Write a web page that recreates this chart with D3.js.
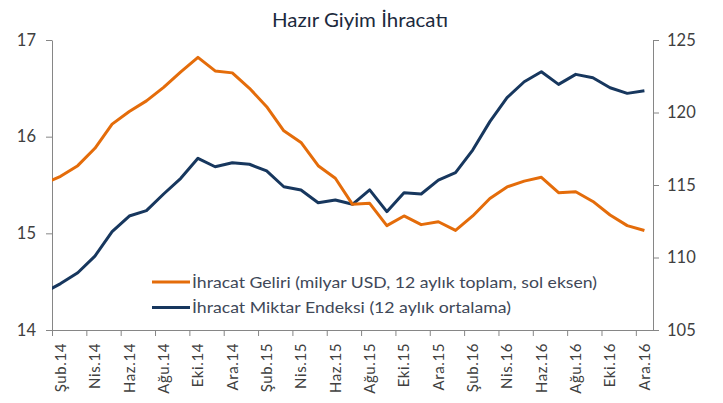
<!DOCTYPE html>
<html><head><meta charset="utf-8">
<script src="https://cdn.jsdelivr.net/npm/d3@7"></script>
<style>body{margin:0;background:#fff}svg{display:block}</style>
</head><body>
<svg id="c" width="723" height="403"></svg>
<script>
const title = "Hazır Giyim İhracatı";
// monthly categories (Oca.14 lies left of the visible plot area and is clipped)
const months = ["Oca.14","Şub.14","Mar.14","Nis.14","May.14","Haz.14","Tem.14","Ağu.14","Eyl.14","Eki.14","Kas.14","Ara.14",
  "Oca.15","Şub.15","Mar.15","Nis.15","May.15","Haz.15","Tem.15","Ağu.15","Eyl.15","Eki.15","Kas.15","Ara.15",
  "Oca.16","Şub.16","Mar.16","Nis.16","May.16","Haz.16","Tem.16","Ağu.16","Eyl.16","Eki.16","Kas.16","Ara.16"];
const revenue = [15.51,15.59,15.70,15.88,16.13,16.26,16.37,16.51,16.67,16.82,16.68,16.66,
  16.50,16.31,16.06,15.94,15.70,15.57,15.30,15.31,15.08,15.18,15.09,15.12,
  15.03,15.18,15.36,15.48,15.54,15.58,15.42,15.43,15.33,15.19,15.08,15.03];
const volume = [107.55,108.2,108.95,110.1,111.78,112.86,113.23,114.38,115.46,116.84,116.26,116.54,
  116.43,115.97,114.88,114.66,113.78,113.97,113.67,114.66,113.16,114.47,114.38,115.34,
  115.85,117.41,119.37,121.02,122.12,122.81,121.94,122.63,122.4,121.71,121.32,121.5];
const leftTicks = [14,15,16,17];
const rightTicks = [105,110,115,120,125];
const seriesNames = ["İhracat Geliri (milyar USD, 12 aylık toplam, sol eksen)","İhracat Miktar Endeksi (12 aylık ortalama)"];
const colors = ["#E46C0A","#17375E"];

const svg = d3.select("#c");
const L = 52, R = 653, T = 40, B = 330;
const font = "Lato, 'Open Sans', sans-serif";
const x = d3.scaleLinear().domain([0.5, months.length - 0.5]).range([L, R]);
const yL = d3.scaleLinear().domain([14, 17]).range([B, T]);
const yR = d3.scaleLinear().domain([105, 125]).range([B, T]);

svg.append("defs").append("clipPath").attr("id","clip")
  .append("rect").attr("x",L).attr("y",0).attr("width",R-L).attr("height",403);

// title
svg.append("text").attr("x",360).attr("y",27).attr("text-anchor","middle")
  .attr("font-family",font).attr("font-size",19).attr("fill","#1c2a3d")
  .attr("textLength",176).attr("lengthAdjust","spacingAndGlyphs").text(title);

function styleAxis(g){
  g.selectAll(".domain").attr("stroke","#868686");
  g.selectAll(".tick line").attr("stroke","#868686");
  g.selectAll("text").attr("font-family",font).attr("fill","#404040");
}
// left axis
const gl = svg.append("g").attr("transform",`translate(${L},0)`)
  .call(d3.axisLeft(yL).tickValues(leftTicks).tickSize(6).tickSizeOuter(0).tickPadding(10).tickFormat(d3.format("d")));
styleAxis(gl); gl.selectAll("text").attr("font-size",16.5);
// right axis
const gr = svg.append("g").attr("transform",`translate(${R},0)`)
  .call(d3.axisRight(yR).tickValues(rightTicks).tickSize(6).tickSizeOuter(0).tickPadding(8).tickFormat(d3.format("d")));
styleAxis(gr); gr.selectAll("text").attr("font-size",16.5);
// bottom axis: tick marks at category boundaries every two months
const bounds = d3.range(0.5, months.length - 1, 2);
const gb = svg.append("g").attr("transform",`translate(0,${B})`)
  .call(d3.axisBottom(x).tickValues(bounds).tickSize(6).tickSizeOuter(0).tickFormat(""));
styleAxis(gb);
// category labels every two months starting at Şub.14
const labelIdx = d3.range(1, months.length, 2);
svg.append("g").selectAll("text").data(labelIdx).join("text")
  .attr("transform", i => `translate(${x(i)},${B+13}) rotate(-90)`)
  .attr("text-anchor","end").attr("dy","0.36em")
  .attr("font-family",font).attr("font-size",15).attr("letter-spacing",0.6).attr("fill","#404040")
  .text(i => months[i]);

// lines
const plot = svg.append("g").attr("clip-path","url(#clip)");
const lineL = d3.line().x((d,i)=>x(i)).y(d=>yL(d));
const lineR = d3.line().x((d,i)=>x(i)).y(d=>yR(d));
plot.append("path").datum(volume).attr("d",lineR).attr("fill","none")
  .attr("stroke",colors[1]).attr("stroke-width",3).attr("stroke-linejoin","round");
plot.append("path").datum(revenue).attr("d",lineL).attr("fill","none")
  .attr("stroke",colors[0]).attr("stroke-width",3).attr("stroke-linejoin","round");

// legend
const lg = svg.append("g");
const lw = [405, 319];
seriesNames.forEach((n,k)=>{
  const yy = 282 + k*25.5;
  lg.append("line").attr("x1",152).attr("x2",190).attr("y1",yy).attr("y2",yy)
    .attr("stroke",colors[k]).attr("stroke-width",3);
  lg.append("text").attr("x",192).attr("y",yy).attr("dy","0.35em")
    .attr("font-family",font).attr("font-size",16).attr("fill","#404858")
    .attr("textLength",lw[k]).attr("lengthAdjust","spacingAndGlyphs").text(n);
});
</script>
</body></html>
